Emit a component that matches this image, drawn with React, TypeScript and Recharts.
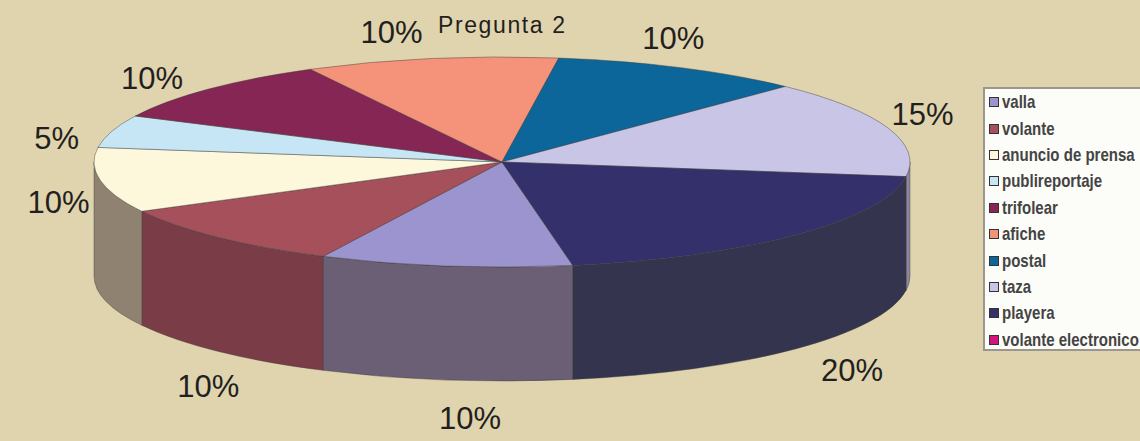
import React from "react";
import { PieChart, Pie, Legend } from "recharts";

// answers to "Pregunta 2" (20 respondents)
const categories = [
  "valla",
  "volante",
  "anuncio de prensa",
  "publireportaje",
  "trifolear",
  "afiche",
  "postal",
  "taza",
  "playera",
  "volante electronico",
];
const responses = [2, 2, 2, 1, 2, 2, 2, 3, 4, 0];

const topColors = ["#9b94cf", "#a5505a", "#fdf8dc", "#c6e6f5", "#862655", "#f4937a", "#0d6699", "#c8c5e6", "#33306b", "#d4157f"];
const sideColors = ["#6a5f75", "#7a3d48", "#8f8270", "#8a9aa2", "#5a1e3c", "#a66a58", "#134566", "#8a879f", "#35344f", "#8e1458"];

const chartData = categories.map((name, i) => ({ name, value: responses[i] }));

const W = 1140;
const H = 441;
const TILT = 105 / 408; // vertical squash of the top face
const DEPTH = 114 / 408; // thickness of the disc
const LABEL_SHIFT = 4; // labels sit a little counter-clockwise, like excel's

const pt = (cx: number, cy: number, rx: number, ry: number, deg: number, dy = 0) => {
  const r = (deg * Math.PI) / 180;
  return [cx + rx * Math.cos(r), cy - ry * Math.sin(r) + dy];
};

const renderSlice = (props: any) => {
  const { cx, cy, outerRadius, startAngle, endAngle, percent, index, value } = props;
  if (!value) return null;
  const rx = outerRadius;
  const ry = outerRadius * TILT;
  const depth = outerRadius * DEPTH;

  // front-facing wall pieces (lower half of the ellipse)
  const lo = Math.min(startAngle, endAngle);
  const hi = Math.max(startAngle, endAngle);
  const walls: string[] = [];
  for (let k = -2; k <= 1; k++) {
    const s = Math.max(lo, -180 + 360 * k);
    const e = Math.min(hi, 360 * k);
    if (e - s > 0.01) {
      const [x1, y1] = pt(cx, cy, rx, ry, s);
      const [x2, y2] = pt(cx, cy, rx, ry, e);
      walls.push(
        `M${x1},${y1} A${rx},${ry} 0 0 0 ${x2},${y2} L${x2},${y2 + depth} A${rx},${ry} 0 0 1 ${x1},${y1 + depth} Z`
      );
    }
  }

  const [ax, ay] = pt(cx, cy, rx, ry, startAngle);
  const [bx, by] = pt(cx, cy, rx, ry, endAngle);
  const large = Math.abs(startAngle - endAngle) > 180 ? 1 : 0;
  const top = `M${cx},${cy} L${ax},${ay} A${rx},${ry} 0 ${large} 1 ${bx},${by} Z`;

  const mid = (startAngle + endAngle) / 2 + LABEL_SHIFT;
  const sin = Math.sin((mid * Math.PI) / 180);
  const drop = 8 + depth * Math.min(1, Math.max(0, (-sin - 0.3) / 0.3));
  const [lx, ly] = pt(cx, cy, rx * 1.12, ry * (sin < 0 ? 1.28 : 1.35), mid, drop);

  return (
    <g>
      {walls.map((d, j) => (
        <path key={j} d={d} fill={sideColors[index]} stroke="#3a3a3a" strokeOpacity={0.5} strokeWidth={0.8} />
      ))}
      <path d={top} fill={topColors[index]} stroke="#3a3a3a" strokeOpacity={0.55} strokeWidth={0.8} />
      <text
        x={lx}
        y={ly}
        textAnchor="middle"
        dominantBaseline="central"
        fontFamily="'Liberation Sans', Arial, sans-serif"
        fontSize={31}
        fill="#231f20"
      >
        {`${Math.round(percent * 100)}%`}
      </text>
    </g>
  );
};

const LegendBox = () => (
  <div
    style={{
      width: 170,
      height: 264,
      background: "#fcfcf8",
      border: "2px solid #9a978f",
      boxSizing: "border-box",
    }}
  >
    {categories.map((name, i) => (
      <div key={name} style={{ display: "flex", alignItems: "center", height: 26.4 }}>
        <span
          style={{
            flexShrink: 0,
            width: 8,
            height: 8,
            marginLeft: 4,
            marginRight: 3,
            background: topColors[i],
            border: "1px solid #333",
          }}
        />
        <span
          style={{
            display: "inline-block",
            flexShrink: 0,
            transform: "scaleX(0.79)",
            transformOrigin: "left center",
            fontFamily: "'Liberation Sans', Arial, sans-serif",
            fontWeight: "bold",
            fontSize: 19,
            color: "#444",
            whiteSpace: "nowrap",
          }}
        >
          {name}
        </span>
      </div>
    ))}
  </div>
);

export default function App() {
  return (
    <div style={{ position: "absolute", left: 0, top: 0, width: W, height: H, overflow: "hidden", background: "#e0d4ae" }}>
      <PieChart width={W} height={H} margin={{ top: 0, right: 0, bottom: 0, left: 0 }}>
        <Pie
          data={chartData}
          dataKey="value"
          nameKey="name"
          cx={502}
          cy={162}
          outerRadius={408}
          startAngle={-80}
          endAngle={-440}
          fill="transparent"
          stroke="none"
          label={renderSlice}
          labelLine={false}
          isAnimationActive={false}
        />
        <Legend
          layout="vertical"
          align="right"
          verticalAlign="top"
          content={<LegendBox />}
          wrapperStyle={{ left: 983, top: 87, width: 170 }}
        />
      </PieChart>
      <svg width={W} height={60} style={{ position: "absolute", left: 0, top: 0, pointerEvents: "none" }}>
        <text x={438} y={33} textLength={127} lengthAdjust="spacing" fontFamily="'Liberation Sans', Arial, sans-serif" fontSize={23} fill="#231f20">
          Pregunta 2
        </text>
      </svg>
    </div>
  );
}
